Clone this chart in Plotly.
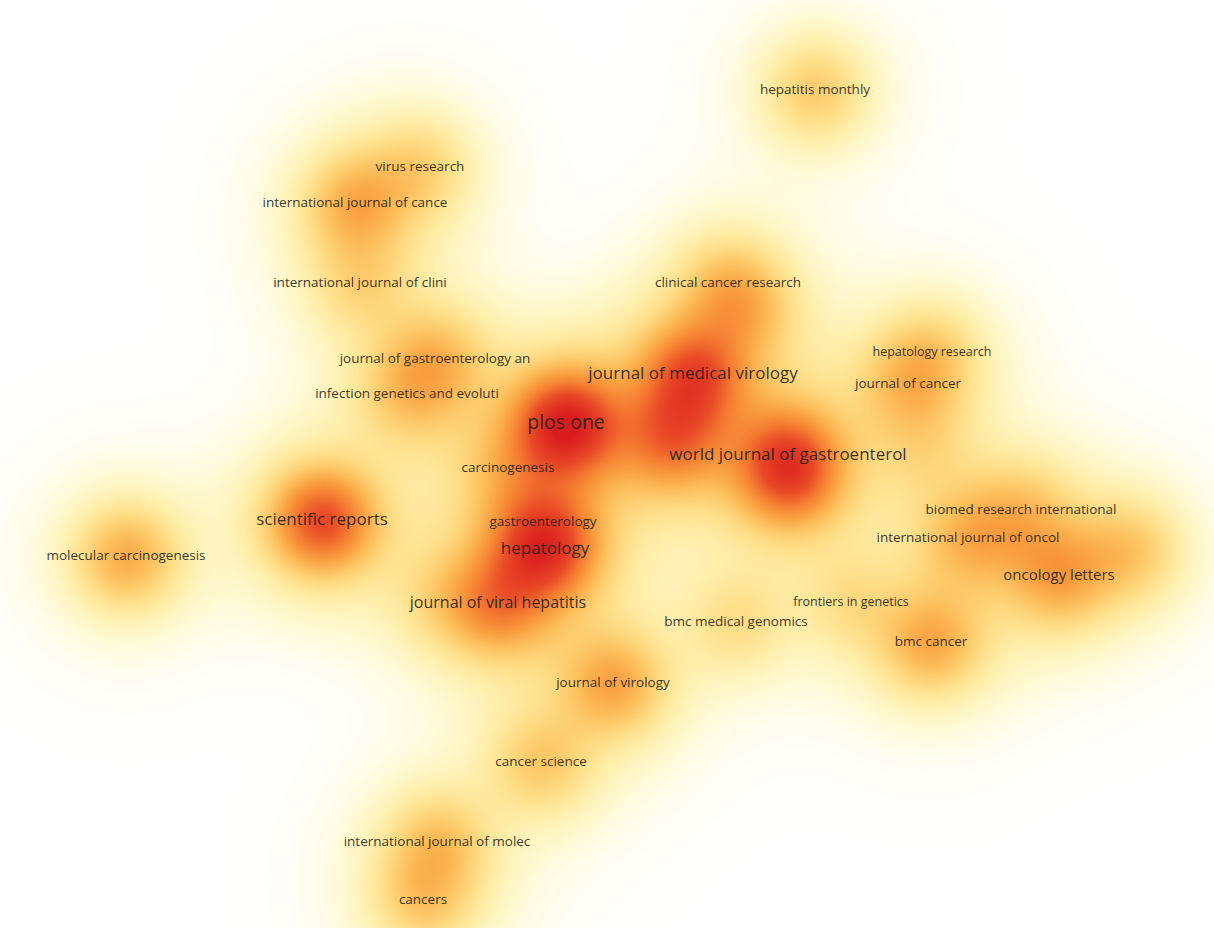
import numpy as np
import plotly.graph_objects as go

# Items (journals): label, position in map coordinates, weight, label size
# (items with an empty label are journals whose labels are hidden in the map)
labels = [
    "hepatitis monthly", "virus research", "international journal of cance",
    "international journal of clini", "clinical cancer research",
    "journal of gastroenterology an", "journal of medical virology",
    "hepatology research", "journal of cancer", "infection genetics and evoluti",
    "plos one", "world journal of gastroenterol", "carcinogenesis",
    "scientific reports", "gastroenterology", "hepatology",
    "molecular carcinogenesis", "biomed research international",
    "international journal of oncol", "oncology letters", "frontiers in genetics",
    "journal of viral hepatitis", "bmc medical genomics", "bmc cancer",
    "journal of virology", "cancer science", "international journal of molec",
    "cancers",
    "", "", "", "", "", "",
]
x_pos = [815, 420, 355, 360, 728, 435, 693, 932, 908, 407, 566, 788, 508, 322,
         543, 545, 126, 1021, 968, 1059, 851, 498, 736, 931, 613, 541, 437, 423,
         672, 790, 1130, 745, 925, 440]
y_pos = [91, 168, 204, 284, 284, 360, 375, 353, 385, 395, 424, 456, 469, 521,
         523, 550, 557, 511, 539, 576, 603, 604, 623, 643, 684, 763, 843, 901,
         440, 482, 550, 310, 450, 600]
weights = [4.8, 3.8, 6.2, 3.2, 3.8, 4.8, 10.5, 3.5, 4.2, 3.8, 15.0, 8.5, 2.6, 12.5,
           3.0, 11.0, 6.8, 3.8, 4.8, 6.2, 2.6, 7.5, 3.2, 6.5, 6.8, 4.5, 4.8, 4.4,
           8.0, 6.5, 4.5, 3.5, 2.2, 2.2]
font_sizes = [13.5, 13.5, 13.5, 13.5, 13.5, 13.5, 17, 12.5, 13.5, 13.5, 19.5, 17,
              13.5, 17, 13.5, 17, 13.5, 13.5, 13.5, 15, 12.5, 16, 13.5, 13.5, 13.5,
              13.5, 13.5, 13.5, 1, 1, 1, 1, 1, 1]

W, H = 1214, 928
K_NARROW, K_WIDE = 35.0, 66.0
ZMAX = 16.5

gx = np.arange(0, W + 1, 4.0)
gy = np.arange(0, H + 1, 4.0)
XX, YY = np.meshgrid(gx, gy)
Z = np.zeros_like(XX)
for xi, yi, wi in zip(x_pos, y_pos, weights):
    r2 = (XX - xi) ** 2 + (YY - yi) ** 2
    Z += wi * (0.78 * np.exp(-r2 / (2 * K_NARROW ** 2))
               + 0.22 * np.exp(-r2 / (2 * K_WIDE ** 2)))

colorscale = [
    [0.0, "#ffffff"],
    [0.02, "#fffdf0"],
    [0.06, "#fff9d2"],
    [0.13, "#ffefac"],
    [0.23, "#fedc84"],
    [0.35, "#fcbf5c"],
    [0.47, "#f99f40"],
    [0.61, "#f47a30"],
    [0.76, "#e94a27"],
    [1.0, "#d91d1e"],
]

shown = [i for i, t in enumerate(labels) if t]

fig = go.Figure()
fig.add_trace(go.Heatmap(
    x=gx, y=gy, z=Z, colorscale=colorscale, zmin=0, zmax=ZMAX,
    zsmooth="best", showscale=False, hoverinfo="skip",
))
fig.add_trace(go.Scatter(
    x=[x_pos[i] for i in shown], y=[y_pos[i] for i in shown], mode="text",
    text=[labels[i] for i in shown],
    textfont=dict(family="Open Sans", size=[font_sizes[i] for i in shown],
                  color="rgba(35,28,22,0.9)"),
    textposition="middle center", hoverinfo="text", showlegend=False,
))
fig.update_xaxes(range=[0, W], visible=False, fixedrange=True)
fig.update_yaxes(range=[H, 0], visible=False, fixedrange=True)
fig.update_layout(
    width=W, height=H, margin=dict(l=0, r=0, t=0, b=0),
    paper_bgcolor="white", plot_bgcolor="white", showlegend=False,
)
fig.write_html("out.html")
